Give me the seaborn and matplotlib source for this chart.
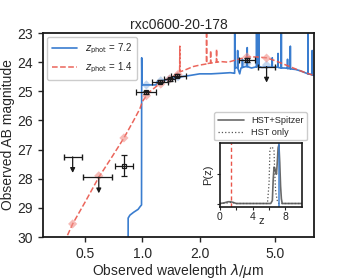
import numpy as np
import pandas as pd
import matplotlib
matplotlib.use("Agg")
import matplotlib.pyplot as plt
import seaborn as sns
from matplotlib.ticker import FixedLocator, NullLocator, FixedFormatter

# spectre du modele z = 7.2 (microns, mag AB)
lam_hiz = [0.30, 0.84, 0.842, 0.86, 0.90, 0.95, 0.975, 0.990, 0.992, 0.995, 1.05, 1.18, 1.20,
           1.30, 1.45, 1.60, 1.80, 2.00, 2.30, 2.60, 2.90, 3.05, 3.057, 3.060, 3.063, 3.10,
           3.166, 3.170, 3.174, 3.25, 3.30, 3.356, 3.360, 3.364, 3.50, 3.555, 3.560, 3.565,
           3.75, 3.85, 3.983, 3.987, 3.991, 4.062, 4.066, 4.070, 4.100, 4.105, 4.110, 4.25,
           4.50, 4.815, 4.820, 4.825, 5.00, 5.165, 5.170, 5.175, 5.375, 5.380, 5.385, 5.60,
           5.795, 5.800, 5.805, 5.995, 6.000, 6.005, 6.40, 6.80, 7.10, 7.30, 7.435, 7.440,
           7.445, 7.70, 7.815, 7.820, 7.825, 8.10]
mag_hiz = [35.0, 35.0, 29.35, 29.25, 29.15, 29.05, 28.95, 28.9, 23.85, 24.78, 24.78, 24.78, 24.66,
           24.62, 24.55, 24.5, 24.45, 24.4, 24.4, 24.38, 24.36, 24.38, 24.38, 22.5, 24.2, 24.18,
           24.2, 23.6, 24.2, 24.4, 24.2, 24.18, 23.9, 24.18, 24.15, 24.15, 23.5, 24.15,
           24.2, 24.18, 24.16, 22.5, 24.15, 24.15, 22.5, 24.15, 24.15, 22.5, 24.15, 24.18,
           24.17, 24.17, 23.85, 24.17, 24.17, 24.17, 23.7, 24.18, 24.2, 22.5, 24.2, 24.2,
           24.21, 23.9, 24.22, 24.22, 23.45, 24.23, 24.25, 24.3, 24.35, 24.38, 24.4, 22.5,
           24.4, 24.42, 24.43, 23.6, 24.44, 24.46]

# spectre du modele z = 1.4
lam_lowz = [0.36, 0.40, 0.43, 0.50, 0.59, 0.70, 0.80, 0.90, 0.97, 1.00, 1.05, 1.10, 1.20, 1.30,
            1.40, 1.50, 1.570, 1.574, 1.578, 1.70, 1.85, 2.00, 2.172, 2.176, 2.180, 2.282,
            2.286, 2.290, 2.452, 2.456, 2.460, 2.60, 2.82, 3.20, 3.55, 4.00, 4.50, 5.00, 5.85,
            6.50, 7.20, 8.10]
mag_lowz = [31.0, 30.0, 29.55, 28.8, 27.95, 27.2, 26.6, 26.0, 25.6, 25.35, 25.15, 25.0, 24.8, 24.65,
            24.55, 24.42, 24.35, 23.45, 24.33, 24.25, 24.15, 24.1, 24.06, 22.5, 24.05, 24.03,
            23.6, 24.03, 24.0, 23.55, 24.0, 23.98, 24.0, 23.9, 23.82, 23.82, 23.85, 23.95, 24.13,
            24.25, 24.36, 24.47]

# photometrie des modeles
lam_phot_lowz = [0.43, 0.59, 0.80, 1.05, 1.25, 1.39, 1.54, 3.55, 4.50]
mag_phot_lowz = [29.55, 27.9, 26.6, 25.15, 24.75, 24.58, 24.42, 23.82, 23.86]
lam_phot_hiz = [1.05, 1.25, 1.39, 1.54, 3.55, 4.50]
mag_phot_hiz = [24.78, 24.64, 24.58, 24.5, 24.05, 24.1]

# detections observees
lam_det = [0.80, 1.045, 1.245, 1.39, 1.53, 3.55]
mag_det = [27.55, 25.04, 24.67, 24.59, 24.47, 23.93]
xlo_det = [0.08, 0.115, 0.125, 0.09, 0.11, 0.33]
xhi_det = [0.09, 0.135, 0.115, 0.10, 0.16, 0.35]
err_det = [0.35, 0.05, 0.05, 0.05, 0.05, 0.08]

# limites superieures
lam_ul = [0.43, 0.59, 4.50]
mag_ul = [27.25, 27.95, 24.15]
xlo_ul = [0.045, 0.10, 0.44]
xhi_ul = [0.05, 0.10, 0.48]
arrow_len = 0.55

# P(z)
z_all = [0.0, 0.5, 1.0, 1.3, 1.6, 2.0, 5.0, 6.2, 6.4, 6.5, 6.6, 6.7, 6.8, 6.9, 7.0, 7.1, 7.2,
         7.3, 7.4, 7.5, 7.6, 10.0]
pz_all = [0.0, 0.01, 0.03, 0.03, 0.02, 0.0, 0.0, 0.0, 0.05, 0.4, 0.62, 0.6, 0.55, 0.5, 0.7,
          0.95, 1.0, 0.7, 0.3, 0.08, 0.0, 0.0]
z_hst = [0.0, 1.0, 1.4, 2.0, 5.0, 5.8, 6.0, 6.1, 6.2, 6.4, 6.6, 6.7, 6.8, 7.0, 7.2, 10.0]
pz_hst = [0.0, 0.01, 0.02, 0.0, 0.0, 0.0, 0.35, 0.9, 0.96, 0.96, 0.9, 0.5, 0.2, 0.05, 0.0, 0.0]

z_best = 7.2
z_alt = 1.4

blue = "#3a7dcf"
red = "#e9554a"

sns.set_theme(style="ticks")
plt.rcParams["font.family"] = ["Liberation Sans", "DejaVu Sans"]
plt.rcParams["mathtext.fontset"] = "dejavusans"

fig = plt.figure(figsize=(3.49, 2.79), dpi=100)
ax = fig.add_axes([0.123, 0.1505, 0.777, 0.731])
ax.set_xscale("log")

sns.lineplot(x=lam_hiz, y=mag_hiz, ax=ax, sort=False, estimator=None, color=blue, lw=1.2,
             label=r"$z_{\rm phot}$ = %.1f" % z_best)
sns.lineplot(x=lam_lowz, y=mag_lowz, ax=ax, sort=False, estimator=None, color=red, lw=1.1,
             linestyle="--", dashes=(4, 2), alpha=0.9, label=r"$z_{\rm phot}$ = %.1f" % z_alt)

sns.scatterplot(x=lam_phot_hiz, y=mag_phot_hiz, ax=ax, marker="D", s=22, color=blue,
                alpha=0.3, edgecolor="none", zorder=3)
sns.scatterplot(x=lam_phot_lowz, y=mag_phot_lowz, ax=ax, marker="D", s=22, color="#f08f88",
                alpha=0.6, edgecolor="none", zorder=3)

ax.errorbar(lam_det, mag_det, xerr=[xlo_det, xhi_det], yerr=err_det, fmt="s", ms=3.5,
            mfc="none", mec="k", mew=0.9, ecolor="k", elinewidth=0.9, capsize=2, zorder=5)
ax.errorbar(lam_ul, mag_ul, xerr=[xlo_ul, xhi_ul], fmt="none", ecolor="k",
            elinewidth=0.9, capsize=2, zorder=5)
for l, m in zip(lam_ul, mag_ul):
    ax.annotate("", xy=(l, m + arrow_len), xytext=(l, m),
                arrowprops=dict(arrowstyle="-|>", color="k", lw=0.9, mutation_scale=7,
                                shrinkA=0, shrinkB=0), zorder=5)

ax.set_xlim(0.3, 8.0)
ax.set_ylim(30, 23)
ax.xaxis.set_major_locator(FixedLocator([0.5, 1.0, 2.0, 5.0]))
ax.xaxis.set_major_formatter(FixedFormatter(["0.5", "1.0", "2.0", "5.0"]))
ax.xaxis.set_minor_locator(NullLocator())
ax.set_yticks(range(23, 31))
ax.tick_params(labelsize=10, direction="out", length=3.5, width=1)
for s in ax.spines.values():
    s.set_linewidth(1.3)
    s.set_color("k")

ax.set_xlabel(r"Observed wavelength $\lambda/\mu$m", fontsize=10, labelpad=1)
ax.set_ylabel("Observed AB magnitude", fontsize=10, labelpad=2)
ax.set_title("rxc0600-20-178", fontsize=10, pad=3)
ax.legend(loc="upper left", fontsize=7, handlelength=2.6, borderpad=0.5,
          labelspacing=0.5, borderaxespad=0.4, framealpha=1)

# encart P(z)
ins = fig.add_axes([0.630, 0.258, 0.235, 0.229])
sns.lineplot(x=z_all, y=pz_all, ax=ins, sort=False, estimator=None, color="#6a6a6a",
             lw=1.2, label="HST+Spitzer")
sns.lineplot(x=z_hst, y=pz_hst, ax=ins, sort=False, estimator=None, color="#555555",
             lw=0.9, linestyle=":", label="HST only")
ins.axvline(z_best, color=blue, lw=1.3, alpha=0.8)
ins.axvline(z_alt, color=red, lw=1.0, linestyle="--", dashes=(3, 2))
ins.set_xlim(0, 10)
ins.set_ylim(-0.06, 1.03)
ins.set_xticks([0, 2, 4, 6, 8])
ins.set_xticklabels(["0", "", "4", "", "8"])
ins.set_yticks([0, 0.5])
ins.set_yticklabels([])
ins.tick_params(labelsize=7.5, direction="out", length=2.5, width=0.8, pad=1)
for s in ins.spines.values():
    s.set_linewidth(1.2)
    s.set_color("k")
ins.set_xlabel("z", fontsize=8, labelpad=-4)
ins.set_ylabel("P(z)", fontsize=8, labelpad=1)
ins.legend(loc="lower center", bbox_to_anchor=(0.5, 1.0), fontsize=6.6, handlelength=2.8,
           borderpad=0.4, labelspacing=0.3, borderaxespad=0.3, framealpha=1)

fig.savefig("out.png", dpi=100)
